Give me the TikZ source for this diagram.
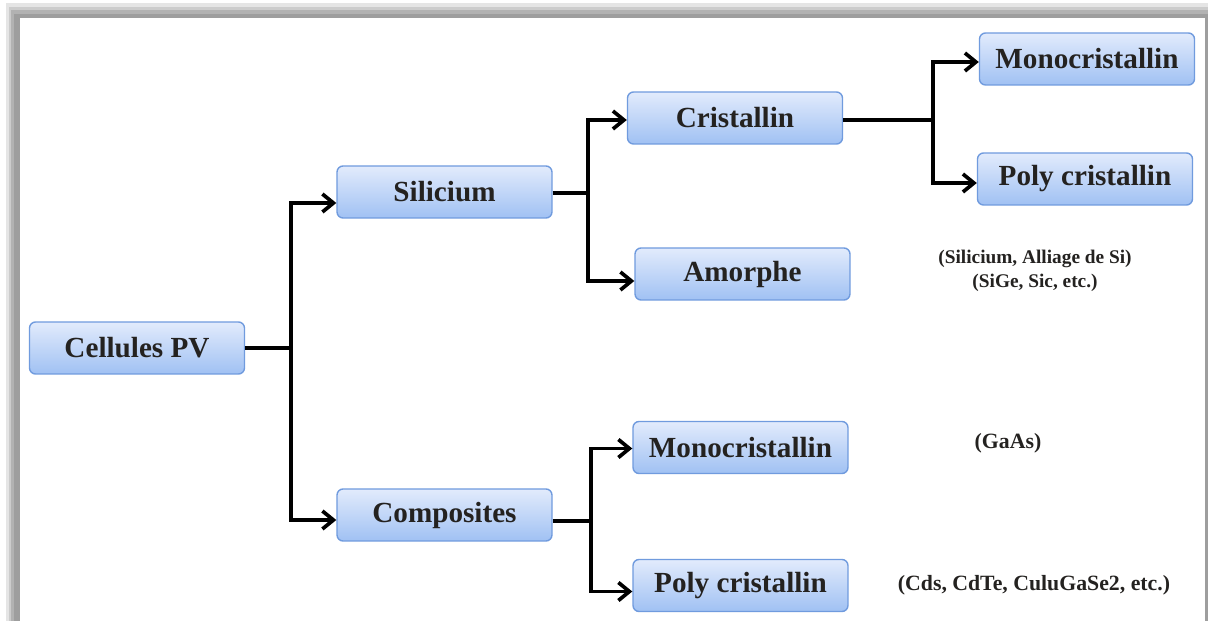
\documentclass[tikz,border=0pt]{standalone}
\usepackage{fontspec}
\setmainfont{Liberation Serif}
\usetikzlibrary{arrows.meta,calc}

\definecolor{boxtop}{RGB}{226,235,252}
\definecolor{boxbot}{RGB}{160,193,243}
\definecolor{boxline}{RGB}{112,155,222}
\definecolor{ink}{RGB}{36,34,32}

\begin{document}
\begin{tikzpicture}[x=0.02cm, y=-0.02cm,
  pvbox/.style={draw=boxline, line width=0.8pt, rounded corners=0.12cm,
    top color=boxtop, bottom color=boxbot, minimum width=4.3cm, minimum height=1.04cm,
    inner sep=0pt, text=ink, font=\fontsize{16.6}{20}\selectfont\bfseries},
  note/.style={text=ink, align=center, inner sep=0pt,
    font=\fontsize{11}{13.5}\selectfont\bfseries},
  link/.style={line width=2.1pt, black, line join=miter},
  arr/.style={link, -{Straight Barb[length=2.2mm,width=3.6mm]}}]
%\draw[gray!35] (0,0) grid[step=100] (1208,621);
\useasboundingbox (0,0) rectangle (1208,621);

% page with its shadow
\fill[black!10] (6,3) rectangle (1208,621);
\fill[black!20] (9,7) rectangle (1208,621);
\fill[black!30] (11,10) rectangle (1208,621);
\fill[black!38] (14,14) rectangle (1208,621);
\fill[white] (20,18) rectangle (1205,621);

\node[pvbox] (cpv) at (137,348) {Cellules PV};
\node[pvbox] (sil) at (444.5,192) {Silicium};
\node[pvbox] (comp) at (444.5,515) {Composites};
\node[pvbox] (cri) at (735,118) {Cristallin};
\node[pvbox] (amo) at (742.5,274) {Amorphe};
\node[pvbox] (mono2) at (740.5,447.5) {Monocristallin};
\node[pvbox] (poly2) at (740.5,585.5) {Poly cristallin};
\node[pvbox] (mono1) at (1087,59) {Monocristallin};
\node[pvbox] (poly1) at (1085,179) {Poly cristallin};

\node[note] (nsi) at (1035,271) {(Silicium, Alliage de Si)\\(SiGe, Sic, etc.)};
\node[note, font=\fontsize{12.4}{14}\selectfont\bfseries] (ngaas) at (1008,443) {(GaAs)};
\node[note, font=\fontsize{12.4}{14}\selectfont\bfseries] (ncds) at (1034,585) {(Cds, CdTe, CuluGaSe2, etc.)};

\draw[link] (cpv.east) -- ++(46,0) coordinate (f1);
\draw[arr] (f1) |- ($(sil.west)+(0,11)$);
\draw[arr] (f1) |- ($(comp.west)+(0,5)$);

\draw[link] ($(sil.east)+(0,1)$) -- ++(35,0) coordinate (f2);
\draw[arr] (f2) |- ($(cri.west)+(0,2)$);
\draw[arr] (f2) |- ($(amo.west)+(0,7)$);

\draw[link] ($(comp.east)+(0,6)$) -- ++(38,0) coordinate (f3);
\draw[arr] (f3) |- ($(mono2.west)+(0,1)$);
\draw[arr] (f3) |- ($(poly2.west)+(0,6)$);

\draw[link] ($(cri.east)+(0,2)$) -- ++(90,0) coordinate (f4);
\draw[arr] (f4) |- ($(mono1.west)+(0,3)$);
\draw[arr] (f4) |- ($(poly1.west)+(0,4)$);

\end{tikzpicture}
\end{document}
